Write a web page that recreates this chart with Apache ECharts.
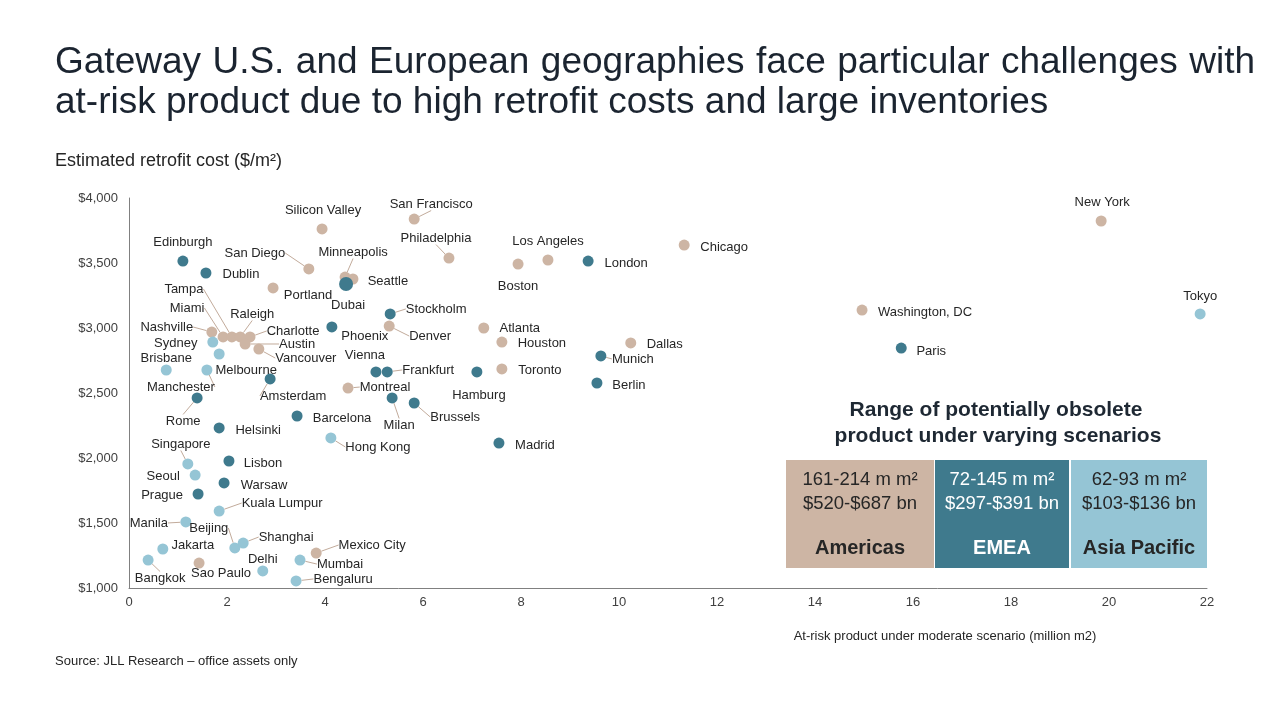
<!DOCTYPE html>
<html><head><meta charset="utf-8">
<script src="https://cdn.jsdelivr.net/npm/echarts@6/dist/echarts.min.js"></script>
<style>html,body{margin:0;padding:0;background:#fff}#c{width:1280px;height:720px}</style>
</head><body><div id="c"></div>
<script>
// ---------- DATA ----------
const titleLines = [
  'Gateway U.S. and European geographies face particular challenges with',
  'at-risk product due to high retrofit costs and large inventories'
];
const yAxisTitle = 'Estimated retrofit cost ($/m²)';
const xAxisTitle = 'At-risk product under moderate scenario (million m2)';
const sourceText = 'Source: JLL Research – office assets only';

// [city, at-risk product (million m2), retrofit cost ($/m2)]
const americasPoints = [
  ['San Francisco', 5.82, 3838], ['Silicon Valley', 3.94, 3762], ['San Diego', 3.67, 3454],
  ['Minneapolis', 4.41, 3392], ['Seattle', 4.57, 3377], ['Portland', 2.94, 3308],
  ['Philadelphia', 6.53, 3538], ['Los Angeles', 8.55, 3523], ['Boston', 7.94, 3492],
  ['Chicago', 11.33, 3638], ['New York', 19.84, 3823], ['Washington, DC', 14.96, 3138],
  ['Nashville', 1.69, 2969], ['Miami', 1.92, 2931], ['Tampa', 2.10, 2931],
  ['Raleigh', 2.27, 2931], ['Charlotte', 2.47, 2931], ['Austin', 2.37, 2877],
  ['Vancouver', 2.65, 2838], ['Denver', 5.31, 3015], ['Atlanta', 7.24, 3000],
  ['Houston', 7.61, 2892], ['Dallas', 10.24, 2885], ['Toronto', 7.61, 2685],
  ['Montreal', 4.47, 2538], ['Mexico City', 3.82, 1269], ['Sao Paulo', 1.43, 1192]
];
const emeaPoints = [
  ['Edinburgh', 1.10, 3515], ['Dublin', 1.57, 3423], ['London', 9.37, 3515],
  ['Dubai', 4.43, 3338], ['Stockholm', 5.33, 3108], ['Phoenix', 4.14, 3008],
  ['Paris', 15.76, 2846], ['Munich', 9.63, 2785], ['Berlin', 9.55, 2577],
  ['Vienna', 5.04, 2662], ['Frankfurt', 5.27, 2662], ['Hamburg', 7.10, 2662],
  ['Amsterdam', 2.88, 2608], ['Milan', 5.37, 2462], ['Brussels', 5.82, 2423],
  ['Barcelona', 3.43, 2323], ['Madrid', 7.55, 2115], ['Rome', 1.39, 2462],
  ['Helsinki', 1.84, 2231], ['Lisbon', 2.04, 1977], ['Warsaw', 1.94, 1808],
  ['Prague', 1.41, 1723]
];
const apacPoints = [
  ['Tokyo', 21.86, 3108], ['Sydney', 1.71, 2892], ['Melbourne', 1.84, 2800],
  ['Brisbane', 0.76, 2677], ['Manchester', 1.59, 2677], ['Singapore', 1.20, 1954],
  ['Seoul', 1.35, 1869], ['Hong Kong', 4.12, 2154], ['Kuala Lumpur', 1.84, 1592],
  ['Manila', 1.16, 1508], ['Beijing', 2.16, 1308], ['Shanghai', 2.33, 1346],
  ['Jakarta', 0.69, 1300], ['Bangkok', 0.39, 1215], ['Delhi', 2.73, 1131],
  ['Mumbai', 3.49, 1215], ['Bengaluru', 3.41, 1054]
];

const xMin = 0, xMax = 22, xStep = 2;
const yMin = 1000, yMax = 4000, yStep = 500;

const boxTitle = ['Range of potentially obsolete', 'product under varying scenarios'];
const boxRegions = ['Americas', 'EMEA', 'Asia Pacific'];
const boxArea = ['161-214 m m²', '72-145 m m²', '62-93 m m²'];
const boxValue = ['$520-$687 bn', '$297-$391 bn', '$103-$136 bn'];

// ---------- LABEL LAYOUT (pixel offsets of label centre from point; 1 = leader line) ----------
const labelOffsets = {
  'San Francisco':[17,-15,1], 'Silicon Valley':[1,-19,0], 'San Diego':[-54,-16,1],
  'Minneapolis':[8,-25,1], 'Seattle':[35,2,0], 'Portland':[35,7,0],
  'Philadelphia':[-13,-20,1], 'Los Angeles':[0,-19,0], 'Boston':[0,22,0],
  'Chicago':[40,2,0], 'New York':[1,-19,0], 'Washington, DC':[63,2,0],
  'Nashville':[-45,-5,1], 'Miami':[-36,-29,1], 'Tampa':[-48,-48,1],
  'Raleigh':[12,-23,1], 'Charlotte':[43,-6,1], 'Austin':[52,0,1],
  'Vancouver':[47,9,1], 'Denver':[41,10,1], 'Atlanta':[36,0,0],
  'Houston':[40,1,0], 'Dallas':[34,1,0], 'Toronto':[38,1,0],
  'Montreal':[37,-1,1], 'Mexico City':[56,-8,1], 'Sao Paulo':[22,10,0],
  'Edinburgh':[0,-19,0], 'Dublin':[35,1,0], 'London':[38,2,0],
  'Dubai':[2,21,0], 'Stockholm':[46,-5,1], 'Phoenix':[33,9,0],
  'Paris':[30,3,0], 'Munich':[32,3,1], 'Berlin':[32,2,0],
  'Vienna':[-11,-17,0], 'Frankfurt':[41,-2,1], 'Hamburg':[2,23,0],
  'Amsterdam':[23,17,1], 'Milan':[7,27,1], 'Brussels':[41,14,1],
  'Barcelona':[45,2,0], 'Madrid':[36,2,0], 'Rome':[-14,23,1],
  'Helsinki':[39,2,0], 'Lisbon':[34,2,0], 'Warsaw':[40,2,0], 'Prague':[-36,1,0],
  'Tokyo':[0,-18,0], 'Sydney':[-37,1,0], 'Melbourne':[27,16,0],
  'Brisbane':[0,-12,0], 'Manchester':[-26,17,1], 'Singapore':[-7,-20,1],
  'Seoul':[-32,1,0], 'Hong Kong':[47,9,1], 'Kuala Lumpur':[63,-8,1],
  'Manila':[-37,1,1], 'Beijing':[-26,-20,1], 'Shanghai':[43,-6,1],
  'Jakarta':[30,-4,0], 'Bangkok':[12,18,1], 'Delhi':[0,-12,0],
  'Mumbai':[40,4,1], 'Bengaluru':[47,-2,1]
};

// ---------- STYLE ----------
const FONT = '"Liberation Sans", Arial, sans-serif';
const C_AM = '#cdb5a4', C_EM = '#3f7a8d', C_AP = '#95c5d5';
const TXT = '#262626';

const chart = echarts.init(document.getElementById('c'), null, {renderer:'canvas'});

function mkSeries(name, arr, color) {
  return {
    type: 'scatter', name,
    symbolSize: (v, p) => p.name === 'Dubai' ? 14 : 11,
    itemStyle: { color, opacity: 1 },
    data: arr.map(d => ({
      name: d[0], value: [d[1], d[2]],
      labelLine: { show: !!(labelOffsets[d[0]] && labelOffsets[d[0]][2]) }
    })),
    label: { show: true, position: 'inside', formatter: '{b}', color: TXT,
             fontSize: 13, fontFamily: FONT, textBorderWidth: 0 },
    labelLine: { show: false, lineStyle: { color: '#c2ab9b', width: 1 } },
    labelLayout: p => {
      const o = labelOffsets[arr[p.dataIndex][0]] || [0, 0];
      return { dx: o[0], dy: o[1], hideOverlap: false };
    },
    emphasis: { disabled: true },
    z: 3
  };
}

// ---------- TITLE (justified first line) ----------
const ctx = document.createElement('canvas').getContext('2d');
function tw(s, f) { ctx.font = f; return ctx.measureText(s).width; }
const tfs = 37;
const tFont = `${tfs}px ${FONT}`;
const words = titleLines[0].split(' ');
const wws = words.map(w => tw(w, tFont));
const gap = Math.max(6, (1200 - wws.reduce((a, b) => a + b, 0)) / (words.length - 1));
const graphics = [];
let cx = 55;
words.forEach((w, i) => {
  graphics.push({ type: 'text', x: cx, y: 63, style: { text: w, font: tFont, fill: '#1b2430', verticalAlign: 'middle' } });
  cx += wws[i] + gap;
});
graphics.push({ type: 'text', x: 55, y: 103, style: { text: titleLines[1], font: tFont, fill: '#1b2430', verticalAlign: 'middle' } });

graphics.push({ type: 'text', x: 55, y: 161, style: { text: yAxisTitle, font: `18px ${FONT}`, fill: TXT, verticalAlign: 'middle' } });
graphics.push({ type: 'text', x: 945, y: 636, style: { text: xAxisTitle, font: `13px ${FONT}`, fill: TXT, align: 'center', verticalAlign: 'middle' } });
graphics.push({ type: 'text', x: 55, y: 661, style: { text: sourceText, font: `13px ${FONT}`, fill: TXT, verticalAlign: 'middle' } });

// ---------- BOX ----------
graphics.push({ type: 'text', x: 996, y: 410, style: { text: boxTitle[0], font: `bold 21px ${FONT}`, fill: '#1e2833', align: 'center', verticalAlign: 'middle' } });
graphics.push({ type: 'text', x: 998, y: 436, style: { text: boxTitle[1], font: `bold 21px ${FONT}`, fill: '#1e2833', align: 'center', verticalAlign: 'middle' } });
const boxCols = [[786, 148, C_AM, TXT], [935, 134, C_EM, '#ffffff'], [1071, 136, C_AP, TXT]];
boxCols.forEach((b, i) => {
  const [bx, bw, fill, tc] = b;
  graphics.push({ type: 'rect', shape: { x: bx, y: 460, width: bw, height: 108 }, style: { fill } });
  const mx = bx + bw / 2;
  graphics.push({ type: 'text', x: mx, y: 480, style: { text: boxArea[i], font: `18.5px ${FONT}`, fill: tc, align: 'center', verticalAlign: 'middle' } });
  graphics.push({ type: 'text', x: mx, y: 504, style: { text: boxValue[i], font: `18.5px ${FONT}`, fill: tc, align: 'center', verticalAlign: 'middle' } });
  graphics.push({ type: 'text', x: mx, y: 548, style: { text: boxRegions[i], font: `bold 20px ${FONT}`, fill: tc, align: 'center', verticalAlign: 'middle' } });
});

const option = {
  backgroundColor: '#ffffff',
  animation: false,
  grid: { left: 129, right: 73, top: 198, bottom: 132, containLabel: false },
  xAxis: {
    type: 'value', min: xMin, max: xMax, interval: xStep,
    axisLine: { show: true, lineStyle: { color: '#808080', width: 1 } },
    axisTick: { show: false }, splitLine: { show: false },
    axisLabel: { color: '#404040', fontSize: 13, fontFamily: FONT, margin: 8 }
  },
  yAxis: {
    type: 'value', min: yMin, max: yMax, interval: yStep,
    axisLine: { show: true, lineStyle: { color: '#808080', width: 1 } },
    axisTick: { show: false }, splitLine: { show: false },
    axisLabel: { color: '#404040', fontSize: 13, fontFamily: FONT, margin: 11,
      formatter: v => '$' + v.toLocaleString('en-US') }
  },
  series: [
    mkSeries('Americas', americasPoints, C_AM),
    mkSeries('EMEA', emeaPoints, C_EM),
    mkSeries('Asia Pacific', apacPoints, C_AP)
  ],
  graphic: graphics
};
chart.setOption(option);
</script>
</body></html>
